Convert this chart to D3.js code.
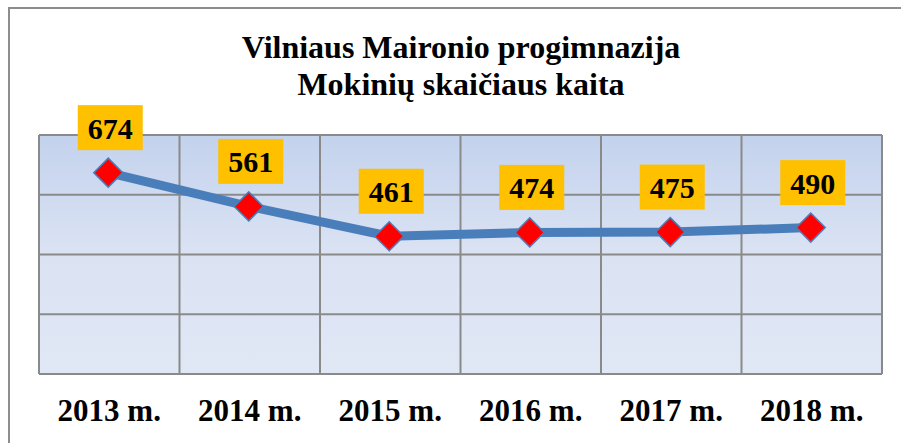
<!DOCTYPE html>
<html>
<head>
<meta charset="utf-8">
<script src="https://cdnjs.cloudflare.com/ajax/libs/d3/7.8.5/d3.min.js"></script>
<style>
    html, body { margin: 0; padding: 0; background: #fff; }
    svg text { font-family: "Liberation Serif", "Times New Roman", serif; font-weight: bold; fill: #000; }
</style>
</head>
<body>
<div id="chart"></div>
<script>
const width = 901;
const height = 443;

const titleLines = ['Vilniaus Maironio progimnazija', 'Mokinių skaičiaus kaita'];
const years = ['2013 m.', '2014 m.', '2015 m.', '2016 m.', '2017 m.', '2018 m.'];
const students = [674, 561, 461, 474, 475, 490];
const gridValues = [0, 200, 400, 600, 800];

const plot = { left: 39, right: 882, top: 135, bottom: 374 };

const svg = d3.select('#chart')
    .append('svg')
    .attr('width', width)
    .attr('height', height);

const defs = svg.append('defs');
const grad = defs.append('linearGradient')
    .attr('id', 'plotBg')
    .attr('x1', 0).attr('y1', 0)
    .attr('x2', 0).attr('y2', 1);
grad.append('stop').attr('offset', '0%').attr('stop-color', '#c3d2ed');
grad.append('stop').attr('offset', '50%').attr('stop-color', '#dbe3f3');
grad.append('stop').attr('offset', '100%').attr('stop-color', '#e0e7f5');

// outer chart border (runs off the page on the right and bottom)
svg.append('rect')
    .attr('x', 9)
    .attr('y', 8)
    .attr('width', width + 20)
    .attr('height', height + 20)
    .attr('fill', 'none')
    .attr('stroke', '#8d8d8d')
    .attr('stroke-width', 2);

// TITLE
svg.append('text')
    .attr('x', 461)
    .attr('y', 58)
    .attr('text-anchor', 'middle')
    .style('font-size', '32px')
    .selectAll('tspan')
    .data(titleLines)
    .join('tspan')
    .attr('x', 461)
    .attr('dy', (d, i) => i ? 37 : 0)
    .text(d => d);

const x = d3.scaleBand()
    .domain(years)
    .range([plot.left, plot.right])
    .padding(0);

const y = d3.scaleLinear()
    .domain([0, 800])
    .range([plot.bottom, plot.top]);

// PLOT AREA
svg.append('rect')
    .attr('x', plot.left)
    .attr('y', plot.top)
    .attr('width', plot.right - plot.left)
    .attr('height', plot.bottom - plot.top)
    .attr('fill', 'url(#plotBg)');

const grid = svg.append('g')
    .attr('stroke', '#8a8a8a')
    .attr('stroke-width', 2);

grid.selectAll('.hline')
    .data(gridValues)
    .join('line')
    .attr('class', 'hline')
    .attr('x1', plot.left)
    .attr('x2', plot.right)
    .attr('y1', d => y(d))
    .attr('y2', d => y(d));

const bounds = years.map(d => x(d)).concat([plot.right]);
grid.selectAll('.vline')
    .data(bounds)
    .join('line')
    .attr('class', 'vline')
    .attr('x1', d => d)
    .attr('x2', d => d)
    .attr('y1', plot.top)
    .attr('y2', plot.bottom);

// X LABELS
svg.append('g')
    .selectAll('text')
    .data(years)
    .join('text')
    .attr('x', d => x(d) + x.bandwidth() / 2)
    .attr('y', 421)
    .attr('text-anchor', 'middle')
    .style('font-size', '31px')
    .text(d => d);

const points = years.map((d, i) => ({ year: d, value: students[i] }));
const cx = d => x(d.year) + x.bandwidth() / 2 - 1;

// LINE
const line = d3.line()
    .x(cx)
    .y(d => y(d.value));

svg.append('path')
    .datum(points)
    .attr('d', line)
    .attr('fill', 'none')
    .attr('stroke', '#4a7ebb')
    .attr('stroke-width', 9)
    .attr('stroke-linejoin', 'round');

// MARKERS
svg.append('g')
    .selectAll('path')
    .data(points)
    .join('path')
    .attr('transform', d => `translate(${cx(d)} ${y(d.value)}) rotate(45)`)
    .attr('d', d3.symbol().type(d3.symbolSquare).size(420))
    .attr('fill', '#ff0000')
    .attr('stroke', '#4a7ebb')
    .attr('stroke-width', 1.5);

// DATA LABELS
const labels = svg.append('g')
    .selectAll('g')
    .data(points)
    .join('g')
    .attr('transform', d => `translate(${cx(d) + 2} ${y(d.value) - 45})`);

labels.append('rect')
    .attr('x', -32.5)
    .attr('y', -22.5)
    .attr('width', 65)
    .attr('height', 45)
    .attr('fill', '#ffc000');

labels.append('text')
    .attr('y', 11)
    .attr('text-anchor', 'middle')
    .style('font-size', '30px')
    .text(d => d.value);
</script>
</body>
</html>
